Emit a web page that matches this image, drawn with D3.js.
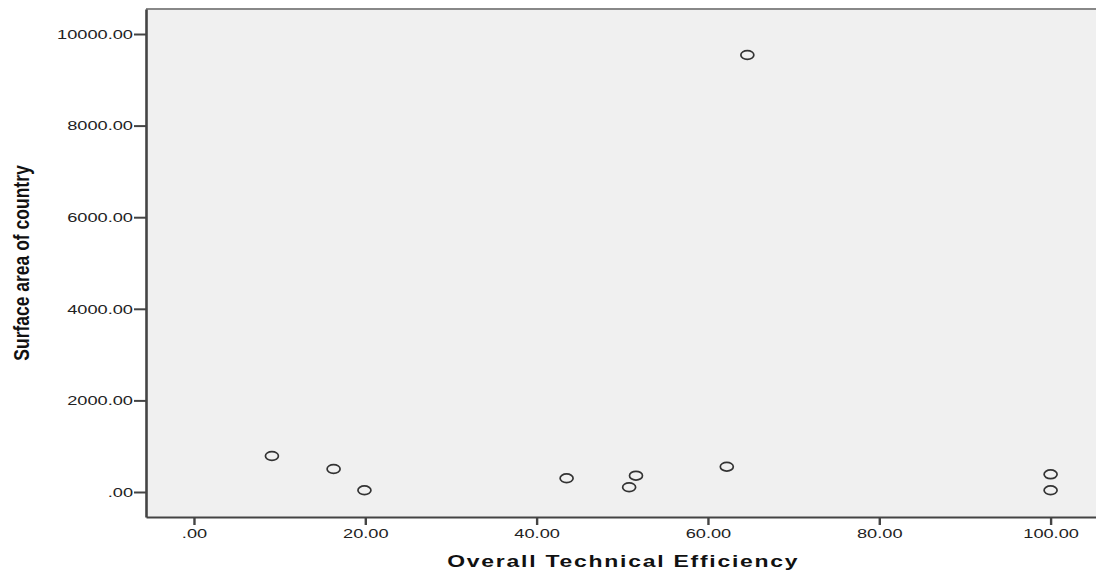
<!DOCTYPE html>
<html>
<head>
<meta charset="utf-8">
<script src="https://cdn.jsdelivr.net/npm/d3@7"></script>
<style>
  body { margin: 0; background: #fff; }
  svg { display: block; }
</style>
</head>
<body>
<svg id="chart"></svg>
<script>
// Overall technical efficiency vs surface area
const efficiency = [9.1, 16.3, 19.9, 43.5, 50.8, 51.6, 62.2, 64.6, 100, 100];
const surfaceArea = [786, 502, 37, 299, 103, 356, 552, 9541, 386, 37];
const xTicks = [0, 20, 40, 60, 80, 100];
const yTicks = [0, 2000, 4000, 6000, 8000, 10000];
const xTitle = "Overall Technical Efficiency";
const yTitle = "Surface area of country";

const width = 1096;
const height = 574;
const marginLeft = 146;
const marginTop = 9;
const marginBottom = 57;
const stretch = 1.35; // the original picture is widened horizontally

const fmt = d => d === 0 ? ".00" : d3.format(".2f")(d);

const svg = d3.select("#chart")
    .attr("width", width)
    .attr("height", height)
    .style("font-family", "'Liberation Sans', Arial, sans-serif");

const x = d3.scaleLinear()
    .domain([-5.6, 105.3])
    .range([marginLeft, width]);

const y = d3.scaleLinear()
    .domain([-546, 10546])
    .range([height - marginBottom, marginTop]);

// plot background
svg.append("rect")
    .attr("x", marginLeft)
    .attr("y", marginTop)
    .attr("width", width - marginLeft)
    .attr("height", height - marginBottom - marginTop)
    .attr("fill", "#f0f0f0");

// top border
svg.append("line")
    .attr("x1", marginLeft).attr("x2", width)
    .attr("y1", marginTop).attr("y2", marginTop)
    .attr("stroke", "#888").attr("stroke-width", 2);

// y axis
const yAxis = svg.append("g")
    .attr("transform", `translate(${marginLeft},0)`)
    .call(d3.axisLeft(y).tickValues(yTicks).tickFormat(fmt).tickSize(12).tickSizeOuter(0).tickPadding(1));

yAxis.select(".domain").attr("stroke", "#444").attr("stroke-width", 2.6);
yAxis.selectAll(".tick line").attr("stroke", "#444").attr("stroke-width", 2);
yAxis.selectAll(".tick text")
    .attr("fill", "#222")
    .attr("font-size", 13.5)
    .attr("transform", function () {
        const tx = +d3.select(this).attr("x") || -13;
        return `translate(${tx},0) scale(${stretch},1) translate(${-tx},0)`;
    });

// x axis
const xAxis = svg.append("g")
    .attr("transform", `translate(0,${height - marginBottom})`)
    .call(d3.axisBottom(x).tickValues(xTicks).tickFormat(fmt).tickSize(8).tickSizeOuter(0).tickPadding(3));

xAxis.select(".domain").attr("stroke", "#444").attr("stroke-width", 2);
xAxis.selectAll(".tick line").attr("stroke", "#444").attr("stroke-width", 2.4);
xAxis.selectAll(".tick text")
    .attr("fill", "#222")
    .attr("font-size", 13.5)
    .attr("transform", `scale(${stretch},1)`);

// points
svg.append("g")
    .selectAll("ellipse")
    .data(efficiency.map((e, i) => ({ e, s: surfaceArea[i] })))
    .join("ellipse")
    .attr("cx", d => x(d.e))
    .attr("cy", d => y(d.s))
    .attr("rx", 6.5)
    .attr("ry", 4.4)
    .attr("fill", "none")
    .attr("stroke", "#333")
    .attr("stroke-width", 1.7);

// axis titles
svg.append("text")
    .attr("transform", `translate(${(x(0) + x(100)) / 2 + 1},567) scale(${stretch},1)`)
    .attr("text-anchor", "middle")
    .attr("font-size", 17)
    .attr("letter-spacing", 1.3)
    .attr("font-weight", "bold")
    .attr("fill", "#111")
    .text(xTitle);

svg.append("text")
    .attr("transform", `translate(29,263) scale(1.3,1) rotate(-90)`)
    .attr("text-anchor", "middle")
    .attr("font-size", 17.5)
    .attr("font-weight", "bold")
    .attr("fill", "#111")
    .text(yTitle);
</script>
</body>
</html>
